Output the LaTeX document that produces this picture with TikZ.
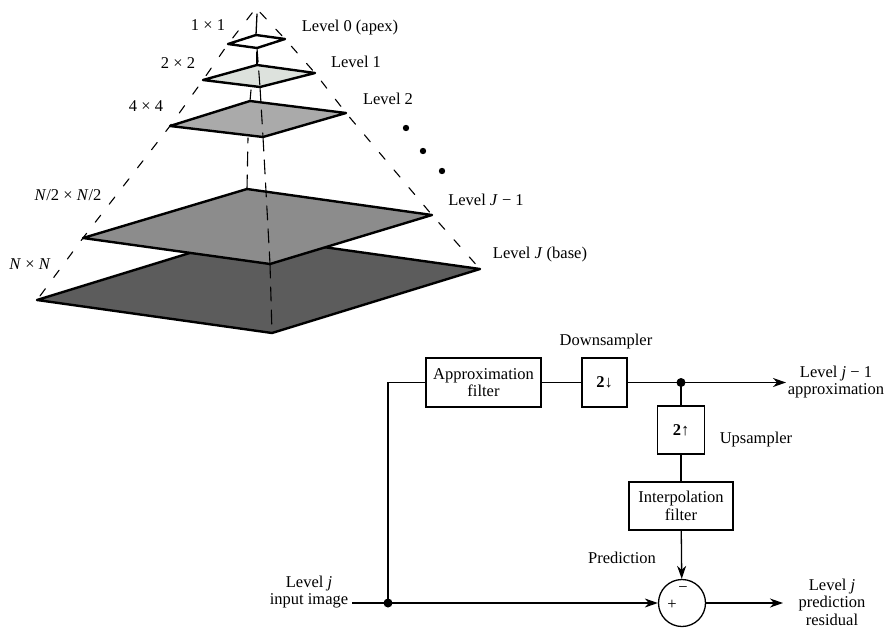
\documentclass[tikz,border=0pt]{standalone}
\usepackage{fontspec}
\setmainfont{Liberation Serif}
\usepackage{tkz-euclide}
\usetikzlibrary{arrows.meta}

\definecolor{lvlone}{RGB}{221,226,221}
\definecolor{lvltwo}{RGB}{170,170,170}
\definecolor{lvlsub}{RGB}{140,140,140}
\definecolor{lvlbase}{RGB}{92,92,92}

\tikzset{
  layer/.style={line width=2.4pt, line join=round},
  sideline/.style={line width=1.1pt, dash pattern=on 9pt off 14pt, dash phase=17pt},
  axisline/.style={line width=1.1pt, dash pattern=on 14pt off 9pt},
  blockbox/.style={draw, line width=1.3pt, align=center, inner sep=2pt},
  wire/.style={line width=1.3pt},
  flow/.style={line width=1.3pt, -{Stealth[length=13pt,width=9pt,inset=4pt]}},
  txt/.style={align=center, inner sep=0pt}
}

\begin{document}
\begin{tikzpicture}[x=1pt,y=-1pt,font=\fontsize{16.5}{17.5}\selectfont]
\useasboundingbox (0,0) rectangle (894,640);
% pyramid
\tkzDefPoints{256/8/O,257/14/T,
  228/44/A0,256/35/B0,285/39/C0,257/48/D0,
  203/80/A1,257/65/B1,315/73/C1,260/87/D1,
  170/126/A2,250/101/B2,346/113/C2,263/137/D2,
  83/238/A3,247/189/B3,432/215/C3,270/264/D3,
  37/300/A4,245/236/B4,480/269/C4,272/333/D4,
  257/52/b1,251/90/b2,248/138/b3}
\tkzDrawSegments[axisline](B1,b1 B2,b2 B3,b3)
\tkzDrawPolySeg[sideline](O,A0,A1,A2,A3,A4)
\tkzDrawPolySeg[sideline](O,C0,C1,C2,C3,C4)
\tkzDrawPolygon[layer,fill=lvlbase](A4,B4,C4,D4)
\tkzDrawPolygon[layer,fill=lvlsub](A3,B3,C3,D3)
\tkzDrawPolygon[layer,fill=lvltwo](A2,B2,C2,D2)
\tkzDrawPolygon[layer,fill=lvlone](A1,B1,C1,D1)
\tkzDrawPolygon[layer,fill=white](A0,B0,C0,D0)
\tkzDrawSegments[axisline](D0,D1 D1,D2 D2,D3 D3,D4)
\tkzDrawSegment[line width=1.3pt](T,B0)
\foreach \p in {(406,128),(423,151),(442,171)}
  \fill \p circle[radius=3.2pt];

\node[txt] (size0) at (208,25) {1 × 1};
\node[txt] (size1) at (178,63) {2 × 2};
\node[txt] (size2) at (146,106) {4 × 4};
\node[txt] (size3) at (68,195) {\textit{N}/2 × \textit{N}/2};
\node[txt] (size4) at (30,264) {\textit{N} × \textit{N}};
\node[txt] (lvl0) at (350,28) {Level 0 (apex)};
\node[txt] (lvl1) at (356,62) {Level 1};
\node[txt] (lvl2) at (388,99) {Level 2};
\node[txt] (lvl3) at (486,200) {Level \textit{J} − 1};
\node[txt] (lvl4) at (540,255) {Level \textit{J} (base)};

% block diagram
\node[blockbox, minimum width=115pt, minimum height=49pt] (approx) at (483.5,382.5) {Approximation\\filter};
\node[blockbox, minimum width=45pt, minimum height=49pt] (down) at (604.5,382.5) {\textbf{2↓}};
\node[blockbox, minimum width=47pt, minimum height=48pt] (up) at (681,430) {\textbf{2↑}};
\node[blockbox, minimum width=104pt, minimum height=48pt] (interp) at (681,506) {Interpolation\\filter};
\node[draw, circle, line width=1.3pt, minimum size=47pt, inner sep=0pt] (sum) at (682,603) {};
\node[txt] (minus) at (683,590) {−};
\node[txt] (plus) at (672,605) {+};

\coordinate (split) at (681,382.5);
\coordinate (tap) at (388,603);
\coordinate (in) at (352,603);
\coordinate (outa) at (786,382.5);
\coordinate (outr) at (783,603);

\draw[wire] (tap) |- (approx.west);
\draw[wire] (approx) -- (down);
\draw[wire] (down) -- (split);
\draw[flow] (split) -- (outa);
\draw[wire] (split) -- (up);
\draw[wire] (up) -- (interp);
\draw[flow] (interp) -- (sum);
\draw[flow] (in) -- (sum);
\draw[flow] (sum) -- (outr);
\fill (split) circle[radius=4.5pt];
\fill (tap) circle[radius=4.5pt];

\node[txt] (downlab) at (606,342) {Downsampler};
\node[txt] (uplab) at (756,440) {Upsampler};
\node[txt] (predlab) at (622,558) {Prediction};
\node[txt] (inlab) at (309,592) {Level \textit{j}\\input image};
\node[txt] (approxlab) at (836,382) {Level \textit{j} − 1\\approximation};
\node[txt] (residlab) at (832,602) {Level \textit{j}\\prediction\\residual};
\end{tikzpicture}
\end{document}
